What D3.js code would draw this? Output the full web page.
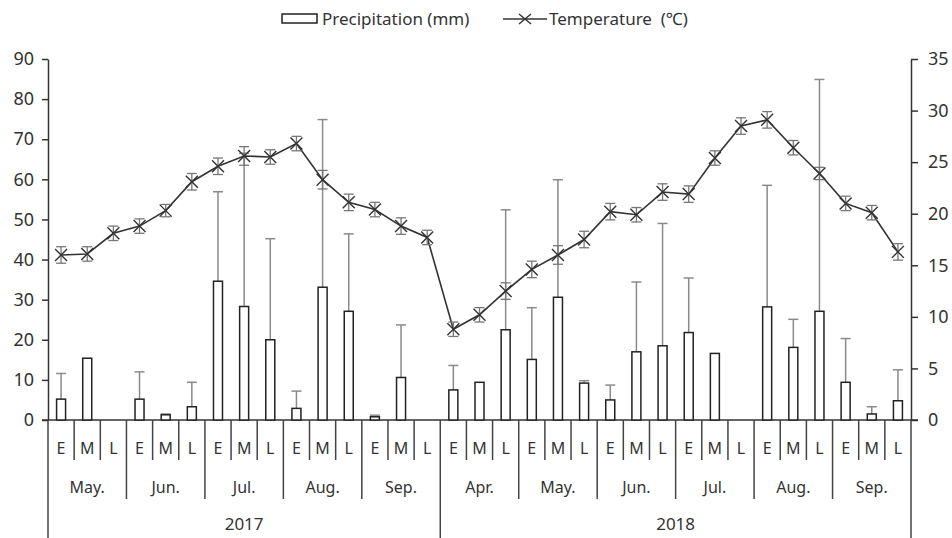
<!DOCTYPE html>
<html>
<head>
<meta charset="utf-8">
<script src="https://cdn.jsdelivr.net/npm/d3@7"></script>
<style>
  body { margin: 0; background: #fff; }
  svg text { font-family: "Noto Sans", sans-serif; fill: #333; }
</style>
</head>
<body>
<svg id="chart" width="952" height="538"></svg>
<script>
// categories
const years = ["2017", "2018"];
const months2017 = ["May.", "Jun.", "Jul.", "Aug.", "Sep."];
const months2018 = ["Apr.", "May.", "Jun.", "Jul.", "Aug.", "Sep."];
const periods = ["E", "M", "L"];

// precipitation (mm), mean and upper sd
const precip = [5.2, 15.4, 0, 5.2, 1.3, 3.3, 34.6, 28.3, 20.0, 2.9, 33.1, 27.1, 0.8, 10.6, 0,
                7.5, 9.4, 22.5, 15.1, 30.6, 9.2, 5.0, 17.0, 18.5, 21.8, 16.6, 0, 28.2, 18.1, 27.1, 9.4, 1.5, 4.8];
const precipSd = [6.4, 0, 0, 6.8, 0.2, 6.1, 22.3, 38.2, 25.2, 4.3, 41.8, 19.3, 0.4, 13.1, 0,
                  6.1, 0, 29.9, 12.9, 29.3, 0.6, 3.7, 17.4, 30.5, 13.6, 0, 0, 30.3, 7.0, 57.8, 10.9, 1.8, 7.7];

// temperature (°C), mean and sd
const temp = [16.0, 16.1, 18.1, 18.8, 20.3, 23.1, 24.6, 25.6, 25.5, 26.8, 23.3, 21.1, 20.4, 18.8, 17.7,
              8.8, 10.2, 12.5, 14.6, 16.0, 17.5, 20.2, 19.9, 22.1, 21.9, 25.4, 28.5, 29.1, 26.4, 23.9, 21.0, 20.1, 16.3];
const tempSd = [0.8, 0.7, 0.7, 0.7, 0.6, 0.8, 0.8, 0.9, 0.7, 0.7, 0.9, 0.8, 0.7, 0.8, 0.7,
                0.7, 0.7, 0.8, 0.8, 0.9, 0.8, 0.8, 0.7, 0.8, 0.8, 0.7, 0.8, 0.8, 0.7, 0.6, 0.7, 0.7, 0.8];

const leftTicks = [0, 10, 20, 30, 40, 50, 60, 70, 80, 90];
const rightTicks = [0, 5, 10, 15, 20, 25, 30, 35];

// build category list
const monthGroups = [];
months2017.forEach(m => monthGroups.push({year: "2017", month: m}));
months2018.forEach(m => monthGroups.push({year: "2018", month: m}));
const cats = [];
monthGroups.forEach(g => periods.forEach(p => cats.push(g.year + "-" + g.month + "-" + p)));

const rows = cats.map((c, i) => ({
  key: c, period: c.split("-")[2],
  p: precip[i], psd: precipSd[i], t: temp[i], tsd: tempSd[i]
}));

const plotL = 48, plotR = 911, plotT = 59, plotB = 420;

const svg = d3.select("#chart");

const x = d3.scaleBand().domain(cats).range([plotL, plotR]);
const yL = d3.scaleLinear().domain([0, 90]).range([plotB, plotT]);
const yR = d3.scaleLinear().domain([0, 35]).range([plotB, plotT]);

// left axis
const axL = svg.append("g")
  .attr("transform", "translate(" + plotL + ",0)")
  .call(d3.axisLeft(yL).tickValues(leftTicks).tickSize(6).tickSizeOuter(0).tickPadding(8));
axL.selectAll("text").style("font-size", "18px");

// right axis
const axR = svg.append("g")
  .attr("transform", "translate(" + plotR + ",0)")
  .call(d3.axisRight(yR).tickValues(rightTicks).tickSize(7).tickSizeOuter(0).tickPadding(10));
axR.selectAll("text").style("font-size", "18px");

svg.selectAll(".domain, .tick line").attr("stroke", "#333").attr("stroke-width", 1.5);
svg.selectAll(".tick text").attr("fill", "#333").style("font-family", "'Noto Sans', sans-serif");

// baseline
svg.append("line")
  .attr("x1", plotL - 6).attr("x2", plotR + 7)
  .attr("y1", yL(0)).attr("y2", yL(0))
  .attr("stroke", "#333").attr("stroke-width", 1.5);

// separators under the axis
const bw = x.bandwidth();
for (let k = 0; k <= cats.length; k++) {
  let len = 40;
  if (k % 3 === 0) len = 79;
  if (k === 0 || k === 15 || k === cats.length) len = 118;
  svg.append("line")
    .attr("x1", plotL + k * bw).attr("x2", plotL + k * bw)
    .attr("y1", plotB).attr("y2", plotB + len)
    .attr("stroke", "#444").attr("stroke-width", 1.5);
}

// E/M/L labels
svg.append("g").selectAll("text")
  .data(rows).enter()
  .append("text")
  .attr("x", d => x(d.key) + bw / 2)
  .attr("y", 454)
  .attr("text-anchor", "middle")
  .style("font-size", "16px")
  .text(d => d.period);

// month labels
svg.append("g").selectAll("text")
  .data(monthGroups).enter()
  .append("text")
  .attr("x", (d, i) => x(cats[i * 3]) + bw * 1.5)
  .attr("y", 493)
  .attr("text-anchor", "middle")
  .style("font-size", "16px")
  .text(d => d.month);

// year labels
svg.append("g").selectAll("text")
  .data(years).enter()
  .append("text")
  .attr("x", d => {
    const ks = cats.filter(c => c.startsWith(d));
    return (x(ks[0]) + x(ks[ks.length - 1]) + bw) / 2;
  })
  .attr("y", 530)
  .attr("text-anchor", "middle")
  .style("font-size", "17px")
  .text(d => d);

// precipitation error bars (upper only)
const errs = svg.append("g").attr("stroke", "#8a8a8a").attr("stroke-width", 1.5);
rows.filter(d => d.psd > 0).forEach(d => {
  const cx = x(d.key) + bw / 2;
  errs.append("line").attr("x1", cx).attr("x2", cx)
    .attr("y1", yL(d.p)).attr("y2", yL(d.p + d.psd));
  errs.append("line").attr("x1", cx - 5).attr("x2", cx + 5)
    .attr("y1", yL(d.p + d.psd)).attr("y2", yL(d.p + d.psd));
});

// precipitation bars
svg.append("g").selectAll("rect")
  .data(rows.filter(d => d.p > 0)).enter()
  .append("rect")
  .attr("x", d => x(d.key) + bw / 2 - 4.5)
  .attr("width", 9)
  .attr("y", d => yL(d.p))
  .attr("height", d => yL(0) - yL(d.p))
  .attr("fill", "#fff")
  .attr("stroke", "#222")
  .attr("stroke-width", 1.5);

// temperature line
const line = d3.line()
  .x(d => x(d.key) + bw / 2)
  .y(d => yR(d.t));
svg.append("path")
  .datum(rows)
  .attr("d", line)
  .attr("fill", "none")
  .attr("stroke", "#333")
  .attr("stroke-width", 1.6);

// temperature error bars
const terr = svg.append("g").attr("stroke", "#777").attr("stroke-width", 1.3);
rows.forEach(d => {
  const cx = x(d.key) + bw / 2;
  terr.append("line").attr("x1", cx).attr("x2", cx)
    .attr("y1", yR(d.t - d.tsd)).attr("y2", yR(d.t + d.tsd));
  [d.t - d.tsd, d.t + d.tsd].forEach(v => {
    terr.append("line").attr("x1", cx - 5).attr("x2", cx + 5)
      .attr("y1", yR(v)).attr("y2", yR(v));
  });
});

// X markers
const mk = svg.append("g").attr("stroke", "#333").attr("stroke-width", 1.4);
rows.forEach(d => {
  const cx = x(d.key) + bw / 2, cy = yR(d.t);
  mk.append("path")
    .attr("d", "M" + (cx - 6) + "," + (cy - 6) + "L" + (cx + 6) + "," + (cy + 6) +
               "M" + (cx - 6) + "," + (cy + 6) + "L" + (cx + 6) + "," + (cy - 6));
});

// legend
const lg = svg.append("g");
lg.append("rect").attr("x", 282).attr("y", 14).attr("width", 35).attr("height", 9)
  .attr("fill", "#fff").attr("stroke", "#222").attr("stroke-width", 1.5);
lg.append("text").attr("x", 322).attr("y", 25).style("font-size", "17px").text("Precipitation (mm)");
lg.append("line").attr("x1", 503).attr("x2", 547).attr("y1", 19).attr("y2", 19)
  .attr("stroke", "#333").attr("stroke-width", 1.5);
lg.append("path").attr("d", "M519,14L531,24M519,24L531,14").attr("stroke", "#333").attr("stroke-width", 1.4);
lg.append("text").attr("x", 549).attr("y", 25).style("font-size", "17px")
  .style("white-space", "pre").text("Temperature  (℃)");
</script>
</body>
</html>
